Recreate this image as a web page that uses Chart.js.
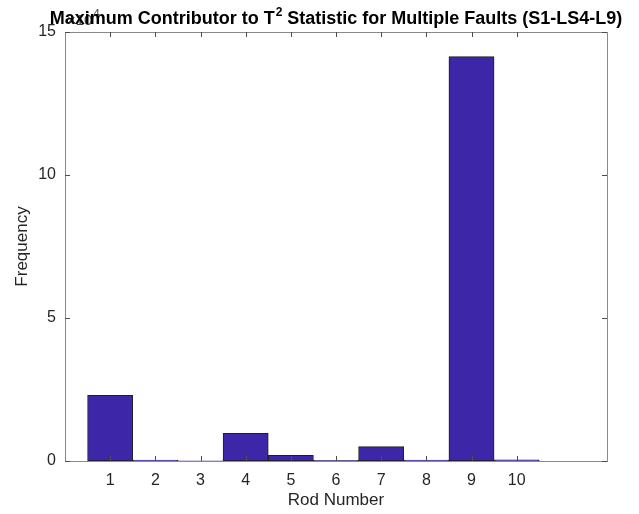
<!DOCTYPE html>
<html>
<head>
<meta charset="utf-8">
<script src="https://cdn.jsdelivr.net/npm/chart.js@4/dist/chart.umd.min.js"></script>
<style>
  html, body { margin: 0; padding: 0; background: #ffffff; }
  canvas { display: block; }
</style>
</head>
<body>
<canvas id="chart" width="639" height="514"></canvas>
<script>
// Histogram counts per rod (values in units of 10^4)
const rods = [1, 2, 3, 4, 5, 6, 7, 8, 9, 10];
const counts = [2.30, 0.03, 0.01, 0.97, 0.20, 0.02, 0.50, 0.03, 14.14, 0.04];
const xTickValues = [1, 2, 3, 4, 5, 6, 7, 8, 9, 10];
const yTickValues = [0, 5, 10, 15];
const yExponent = '4';

const titleMain = 'Maximum Contributor to T';
const titleSup = '2';
const titleRest = ' Statistic for Multiple Faults (S1-LS4-L9)';
const xTitle = 'Rod Number';
const yTitle = 'Frequency';

const FONT = '"Liberation Sans", Arial, Helvetica, sans-serif';
const TEXT = '#262626';
const BOX = '#8a8a8a';
const TICK = '#4d4d4d';

// Axes box, inward tick marks on all four sides, exponent label and title
const matlabFrame = {
  id: 'matlabFrame',
  afterDatasetsDraw(chart) {
    const { ctx, chartArea: a, scales: { x, y } } = chart;
    ctx.save();
    ctx.lineWidth = 1;
    ctx.strokeStyle = BOX;
    ctx.strokeRect(Math.round(a.left) + 0.5, Math.round(a.top) + 0.5,
                   Math.round(a.right - a.left), Math.round(a.bottom - a.top));
    ctx.strokeStyle = TICK;
    ctx.beginPath();
    const tl = 5;
    xTickValues.forEach(v => {
      const px = Math.round(x.getPixelForValue(v)) + 0.5;
      ctx.moveTo(px, a.bottom); ctx.lineTo(px, a.bottom - tl);
      ctx.moveTo(px, a.top); ctx.lineTo(px, a.top + tl);
    });
    yTickValues.forEach(v => {
      const py = Math.round(y.getPixelForValue(v)) + 0.5;
      ctx.moveTo(a.left, py); ctx.lineTo(a.left + tl, py);
      ctx.moveTo(a.right, py); ctx.lineTo(a.right - tl, py);
    });
    ctx.stroke();
    ctx.restore();
  },
  afterDraw(chart) {
    const { ctx, chartArea: a } = chart;
    ctx.save();
    ctx.fillStyle = '#404040';
    ctx.textBaseline = 'alphabetic';
    ctx.textAlign = 'left';
    // ×10^4 multiplier above the y axis
    ctx.font = '15px ' + FONT;
    const base = '\u00d710';
    ctx.fillText(base, a.left + 2, 25);
    const bw = ctx.measureText(base).width;
    ctx.font = '11px ' + FONT;
    ctx.fillText(yExponent, a.left + 2 + bw + 1, 17);

    // Title with superscript
    ctx.fillStyle = '#000000';
    const big = 'bold 18px ' + FONT;
    const small = 'bold 12px ' + FONT;
    ctx.font = big;
    const w1 = ctx.measureText(titleMain).width;
    const w3 = ctx.measureText(titleRest).width;
    ctx.font = small;
    const w2 = ctx.measureText(titleSup).width;
    const total = w1 + w2 + w3 + 1;
    const cx = (a.left + a.right) / 2;
    let tx = cx - total / 2;
    const ty = 24;
    ctx.font = big;
    ctx.fillText(titleMain, tx, ty);
    tx += w1 + 1;
    ctx.font = small;
    ctx.fillText(titleSup, tx, ty - 8);
    tx += w2;
    ctx.font = big;
    ctx.fillText(titleRest, tx, ty);
    ctx.restore();
  }
};

new Chart(document.getElementById('chart'), {
  type: 'bar',
  data: {
    datasets: [{
      data: rods.map((r, i) => ({ x: r, y: counts[i] })),
      backgroundColor: 'rgb(62, 38, 168)',
      borderColor: '#1f1f1f',
      borderWidth: 1,
      borderSkipped: false,
      barPercentage: 1,
      categoryPercentage: 1
    }]
  },
  options: {
    responsive: false,
    animation: false,
    devicePixelRatio: 1,
    layout: { padding: { top: 32, right: 32, left: 0, bottom: 0 } },
    plugins: { legend: { display: false }, tooltip: { enabled: false }, title: { display: false } },
    scales: {
      x: {
        type: 'linear',
        offset: false,
        min: 0,
        max: 12,
        afterBuildTicks(scale) { scale.ticks = xTickValues.map(v => ({ value: v })); },
        afterFit(scale) { scale.height = 53; },
        grid: { display: false, drawTicks: false, offset: false },
        border: { display: false },
        ticks: {
          autoSkip: false,
          maxRotation: 0,
          padding: 10,
          color: TEXT,
          font: { family: FONT, size: 16 }
        },
        title: {
          display: true,
          text: xTitle,
          color: TEXT,
          font: { family: FONT, size: 17 },
          padding: { top: 0, bottom: 3 }
        }
      },
      y: {
        min: 0,
        max: 15,
        afterBuildTicks(scale) { scale.ticks = yTickValues.map(v => ({ value: v })); },
        afterFit(scale) { scale.width = 65; },
        grid: { display: false, drawTicks: false },
        border: { display: false },
        ticks: {
          padding: 9,
          color: TEXT,
          font: { family: FONT, size: 16 }
        },
        title: {
          display: true,
          text: yTitle,
          color: TEXT,
          font: { family: FONT, size: 17 },
          padding: { top: 12, bottom: 0 }
        }
      }
    }
  },
  plugins: [matlabFrame]
});
</script>
</body>
</html>
